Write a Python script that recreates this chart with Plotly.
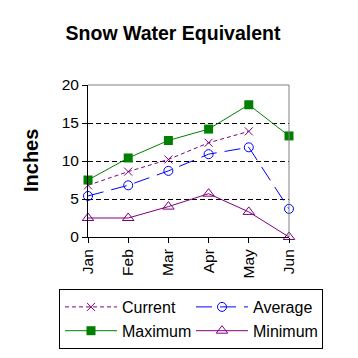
import plotly.graph_objects as go

months = ["Jan", "Feb", "Mar", "Apr", "May", "Jun"]
current = [6.8, 8.6, 10.2, 12.4, 13.9, None]
average = [5.4, 6.8, 8.7, 10.9, 11.8, 3.7]
maximum = [7.5, 10.4, 12.7, 14.2, 17.4, 13.3]
minimum = [2.5, 2.5, 4.0, 5.7, 3.3, 0.0]

font = "Liberation Sans, Arial, sans-serif"
fig = go.Figure()
fig.add_trace(go.Scatter(x=months, y=current, name="Current", mode="lines+markers",
                         line=dict(color="#800080", width=1, dash="4px,3px"),
                         marker=dict(symbol="x-thin-open", size=8, color="#800080",
                                     line=dict(color="#800080", width=1))))
fig.add_trace(go.Scatter(x=months, y=average, name="Average", mode="lines+markers",
                         line=dict(color="#0000FF", width=1, dash="16px,8px"),
                         marker=dict(symbol="circle-open", size=9, color="#0000FF",
                                     line=dict(width=1))))
fig.add_trace(go.Scatter(x=months, y=maximum, name="Maximum", mode="lines+markers",
                         line=dict(color="#008000", width=1),
                         marker=dict(symbol="square", size=9, color="#008000")))
fig.add_trace(go.Scatter(x=months, y=minimum, name="Minimum", mode="lines+markers",
                         line=dict(color="#800080", width=1),
                         marker=dict(symbol="triangle-up-open", size=10, color="#800080",
                                     line=dict(width=1))))
for t in fig.data:
    t.cliponaxis = False

fig.update_layout(
    width=358, height=358,
    margin=dict(l=88, r=69, t=85, b=121, autoexpand=False),
    paper_bgcolor="white", plot_bgcolor="white",
    font=dict(family=font, size=15, color="black"),
    title=dict(text="<b>Snow Water Equivalent</b>", x=173 / 358, xanchor="center",
               xref="container", yref="container",
               y=1 - 33 / 358, yanchor="middle", font=dict(size=19.5, family=font)),
    xaxis=dict(type="category", range=[0, 5], showgrid=False, showline=True,
               linecolor="black", linewidth=1, ticks="outside", ticklen=5,
               tickcolor="black", tickangle=-90, tickfont=dict(size=15.5),
               automargin=False),
    yaxis=dict(range=[0, 20], tickvals=[0, 5, 10, 15, 20], showgrid=True,
               gridcolor="black", griddash="5px,3px", gridwidth=1, showline=True,
               linecolor="black", linewidth=1, ticks="outside", ticklen=5,
               tickcolor="black", zeroline=False, tickfont=dict(size=15.5),
               automargin=False),
    legend=dict(orientation="h", x=(59 - 88) / 201, y=(237 - 289) / 152,
                xanchor="left", yanchor="top",
                bordercolor="black", borderwidth=1, entrywidth=64,
                font=dict(size=16), tracegroupgap=0, itemwidth=52),
    showlegend=True,
)
fig.add_annotation(text="<b>Inches</b>", xref="paper", yref="paper",
                   x=(31 - 88) / 201, y=0.5, textangle=-90, showarrow=False,
                   xanchor="center", yanchor="middle", font=dict(size=20))
fig.add_shape(type="line", xref="paper", yref="paper", x0=0, x1=1, y0=1, y1=1,
              line=dict(color="gray", width=1), layer="above")
fig.add_shape(type="line", xref="paper", yref="paper", x0=1, x1=1, y0=0, y1=1,
              line=dict(color="gray", width=1), layer="above")
fig.write_html("out.html", config={"displayModeBar": False},
               post_script="document.body.style.margin='0';")
